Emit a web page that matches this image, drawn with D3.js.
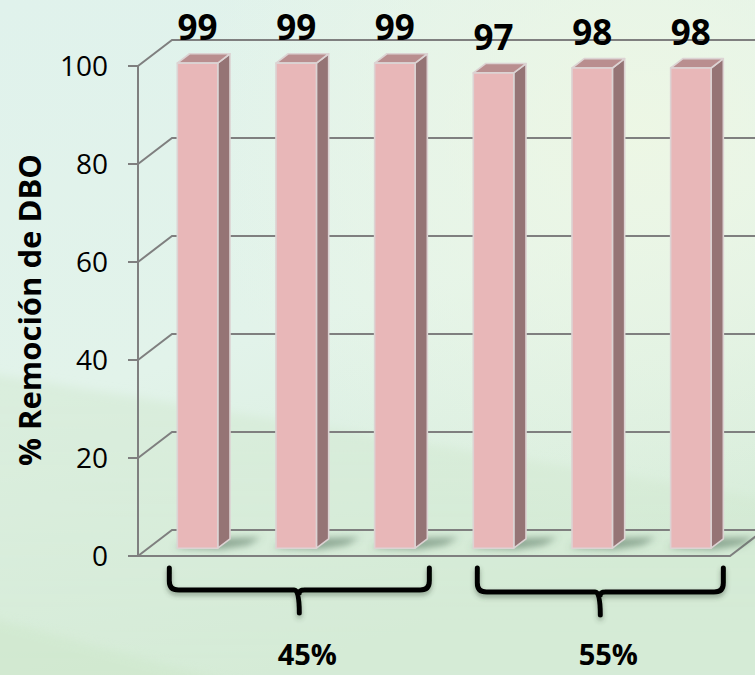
<!DOCTYPE html>
<html>
<head>
<meta charset="utf-8">
<script src="https://cdn.jsdelivr.net/npm/d3@7"></script>
<style>
  html, body { margin: 0; padding: 0; background: #e1f2ea; }
  svg { display: block; }
</style>
</head>
<body>
<div id="chart"></div>
<script>
// Data: BOD removal (%) for three replicates at each of two levels
const categories = ["45% R1", "45% R2", "45% R3", "55% R1", "55% R2", "55% R3"];
const values = [99, 99, 99, 97, 98, 98];
const groups = ["45%", "55%"];
const groupMembers = [[0, 1, 2], [3, 4, 5]];
const yTicks = [0, 20, 40, 60, 80, 100];
const yTitle = "% Remoción de DBO";

const W = 755, H = 675;
const svg = d3.select("#chart").append("svg").attr("width", W).attr("height", H);
const defs = svg.append("defs");

// ---- background ----
const bg = defs.append("linearGradient").attr("id", "bg").attr("x1", 0).attr("y1", 0).attr("x2", 0.35).attr("y2", 1);
bg.append("stop").attr("offset", 0).attr("stop-color", "#e0f2ec");
bg.append("stop").attr("offset", 0.55).attr("stop-color", "#e2f3ea");
bg.append("stop").attr("offset", 1).attr("stop-color", "#d6ecd9");
svg.append("rect").attr("width", W).attr("height", H).attr("fill", "url(#bg)");

const warm = defs.append("radialGradient").attr("id", "warm").attr("cx", 0.85).attr("cy", 0.2).attr("r", 0.6);
warm.append("stop").attr("offset", 0).attr("stop-color", "#eef7e4").attr("stop-opacity", 0.9);
warm.append("stop").attr("offset", 1).attr("stop-color", "#eef7e4").attr("stop-opacity", 0);
svg.append("rect").attr("width", W).attr("height", H).attr("fill", "url(#warm)");

const haze = defs.append("filter").attr("id", "haze").attr("x", "-10%").attr("y", "-10%").attr("width", "120%").attr("height", "120%");
haze.append("feGaussianBlur").attr("stdDeviation", 5);
const band = defs.append("linearGradient").attr("id", "band").attr("x1", 0).attr("y1", 0).attr("x2", 0).attr("y2", 1);
band.append("stop").attr("offset", 0).attr("stop-color", "#cfe6cc").attr("stop-opacity", 0.45);
band.append("stop").attr("offset", 1).attr("stop-color", "#d3e9d2").attr("stop-opacity", 0.35);
svg.append("path").attr("d", `M-20,372 L775,500 L775,700 L-20,700 Z`).attr("fill", "url(#band)").attr("filter", "url(#haze)");
svg.append("path").attr("d", `M-20,615 L260,690 L-20,690 Z`).attr("fill", "#cfe8cc").attr("opacity", 0.6).attr("filter", "url(#haze)");

// ---- scales and 3-D projection ----
const y = d3.scaleLinear().domain([0, 100]).range([556, 66]);
const x = d3.scaleBand().domain(d3.range(categories.length)).range([138, 730])
  .paddingInner(0.59).paddingOuter(0.295);
const DX = 34, DY = -26;           // depth vector of the floor
const Z0 = 0.30, Z1 = 0.66;        // bar front / back depth
const P = (px, v, z) => [px + z * DX, y(v) + z * DY];
const poly = pts => "M" + pts.map(p => p.join(",")).join("L") + "Z";

const xL = x.range()[0], xR = x.range()[1];
const grid = svg.append("g").attr("stroke", "#7f7f7f").attr("stroke-width", 2).attr("fill", "none");

// back wall gridlines and side wall diagonals
yTicks.forEach(t => {
  const a = P(xL, t, 0), b = P(xL, t, 1), c = P(xR, t, 1);
  grid.append("path").attr("d", `M${a}L${b}L${c}`);
});
// floor front edge and right edge
grid.append("path").attr("d", `M${P(xL - 10, 0, 0)}L${P(xR, 0, 0)}L${P(xR, 0, 1)}`);
// vertical axis and tick marks
grid.append("path").attr("d", `M${P(xL, 0, 0)}L${P(xL, 100, 0)}`);
yTicks.forEach(t => grid.append("path").attr("d", `M${P(xL - 10, t, 0)}L${P(xL, t, 0)}`));

// tick labels
svg.append("g").selectAll("text").data(yTicks).join("text")
  .attr("x", xL - 30).attr("y", d => y(d)).attr("dy", "0.36em")
  .attr("text-anchor", "end")
  .attr("font-family", "'Open Sans', sans-serif").attr("font-size", 28).attr("fill", "#000")
  .text(d => d);

// axis title
svg.append("text")
  .attr("transform", `translate(41,310) rotate(-90)`)
  .attr("text-anchor", "middle")
  .attr("font-family", "'Open Sans', sans-serif").attr("font-weight", "bold").attr("font-size", 31)
  .attr("fill", "#000")
  .text(yTitle);

// ---- floor shadows ----
const blur = defs.append("filter").attr("id", "soft").attr("x", "-50%").attr("y", "-50%").attr("width", "200%").attr("height", "200%");
blur.append("feGaussianBlur").attr("stdDeviation", 3.5);
const shadowG = svg.append("g").attr("filter", "url(#soft)");
values.forEach((v, i) => {
  const x0 = x(i), x1 = x(i) + x.bandwidth();
  const pts = [P(x0 - 4, 0, Z0 + 0.02), P(x1 + 4, 0, Z0 - 0.05), P(x1 + 26, 0, Z0 + 0.12),
               P(x1 + 30, 0, Z1 + 0.05), P(x0 + 4, 0, Z1)];
  shadowG.append("path").attr("d", poly(pts)).attr("fill", "#4f6f5a").attr("opacity", 0.55);
});

// ---- bars ----
const bars = svg.append("g").attr("stroke", "#dcd3d3").attr("stroke-width", 1.6).attr("stroke-linejoin", "round");
values.forEach((v, i) => {
  const x0 = x(i), x1 = x(i) + x.bandwidth();
  const g = bars.append("g");
  // side face
  g.append("path").attr("fill", "#957475")
    .attr("d", poly([P(x1, 0, Z0), P(x1, v, Z0), P(x1, v, Z1), P(x1, 0, Z1)]));
  // top face
  g.append("path").attr("fill", "#b98e8f")
    .attr("d", poly([P(x0, v, Z0), P(x1, v, Z0), P(x1, v, Z1), P(x0, v, Z1)]));
  // front face
  g.append("path").attr("fill", "#e8b7b8")
    .attr("d", poly([P(x0, 0, Z0), P(x1, 0, Z0), P(x1, v, Z0), P(x0, v, Z0)]));
});

// value labels
svg.append("g").selectAll("text").data(values).join("text")
  .attr("x", (d, i) => P(x(i) + x.bandwidth() / 2, d, Z0)[0])
  .attr("y", d => P(0, d, Z0)[1] - 23)
  .attr("text-anchor", "middle")
  .attr("font-family", "'Open Sans', sans-serif").attr("font-weight", "bold").attr("font-size", 35)
  .attr("fill", "#000")
  .text(d => d);

// ---- group braces ----
const ds = defs.append("filter").attr("id", "drop").attr("x", "-20%").attr("y", "-50%").attr("width", "140%").attr("height", "200%");
ds.append("feDropShadow").attr("dx", 0).attr("dy", 3).attr("stdDeviation", 2.5)
  .attr("flood-color", "#3a4a3a").attr("flood-opacity", 0.45);

const braceTop = 568, braceH = 590, braceTip = 613, r = 9;
const leftNudge = [-8, 4], rightNudge = [2, 0];
groupMembers.forEach((m, gi) => {
  const left = P(x(m[0]), 0, Z0)[0] + leftNudge[gi];
  const right = P(x(m[m.length - 1]) + x.bandwidth(), 0, Z1)[0] + rightNudge[gi];
  const mid = (left + right) / 2;
  const h = braceH + gi * 2, tip = braceTip + gi * 2;
  const d = `M${left},${braceTop} L${left},${h - r} Q${left},${h} ${left + r},${h}` +
            ` L${mid - 5},${h} Q${mid},${h} ${mid},${tip}` +
            ` M${mid},${h + 3} Q${mid},${h} ${mid + 5},${h}` +
            ` L${right - r},${h} Q${right},${h} ${right},${h - r} L${right},${braceTop}`;
  svg.append("path").attr("d", d).attr("fill", "none").attr("stroke", "#000")
    .attr("stroke-width", 5).attr("stroke-linecap", "round").attr("stroke-linejoin", "round")
    .attr("filter", "url(#drop)");
  svg.append("text").attr("x", mid + 8).attr("y", 665)
    .attr("text-anchor", "middle")
    .attr("font-family", "'Open Sans', sans-serif").attr("font-weight", "bold").attr("font-size", 29)
    .attr("fill", "#000")
    .text(groups[gi]);
});
</script>
</body>
</html>
